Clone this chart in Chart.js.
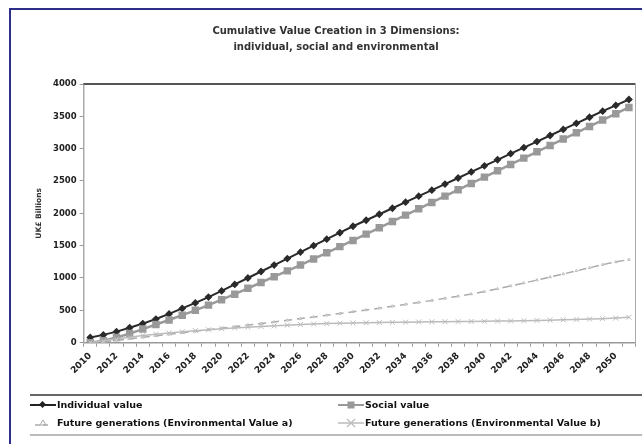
<!DOCTYPE html>
<html>
<head>
<meta charset="utf-8">
<script src="https://cdn.jsdelivr.net/npm/chart.js@4.4.1/dist/chart.umd.min.js"></script>
<style>
  html, body { margin: 0; padding: 0; background: #fff; }
  body { width: 642px; height: 444px; overflow: hidden; position: relative; font-family: "DejaVu Sans", sans-serif; }
  #frame { position: absolute; left: 9px; top: 8px; width: 700px; height: 500px; border: 2px solid #2e2f88; box-sizing: border-box; }
  #chartBox { position: absolute; left: 0; top: 0; width: 642px; height: 444px; }
  #legend { position: absolute; left: 30px; top: 394px; width: 612px; height: 38px; border-top: 2px solid #666; border-bottom: 2px solid #bbb; }
  .item { position: absolute; height: 14px; font-size: 9.5px; font-weight: bold; color: #111; white-space: nowrap; line-height: 14px; }
  .item svg { position: absolute; left: 0; top: 0; }
  .item span { position: absolute; left: 27px; top: 0; }
</style>
</head>
<body>
<div id="frame"></div>
<div id="chartBox"><canvas id="chart" width="642" height="444"></canvas></div>
<div id="legend">
  <div class="item" style="left:0; top:2px;">
    <svg width="26" height="14"><line x1="0" y1="7" x2="26" y2="7" stroke="#222" stroke-width="2"/><rect x="10" y="4" width="5" height="5" fill="#222" transform="rotate(45 12.5 6.5)"/></svg>
    <span>Individual value</span>
  </div>
  <div class="item" style="left:308px; top:2px;">
    <svg width="26" height="14"><line x1="0" y1="7" x2="26" y2="7" stroke="#999" stroke-width="2"/><rect x="9.5" y="3.5" width="7" height="7" fill="#999"/></svg>
    <span>Social value</span>
  </div>
  <div class="item" style="left:0; top:20px;">
    <svg width="26" height="14"><line x1="5" y1="9" x2="21" y2="9" stroke="#aaa" stroke-width="1.5" stroke-dasharray="5 3"/><path d="M13 4 L16 9 L10 9 Z" fill="none" stroke="#aaa" stroke-width="1"/></svg>
    <span>Future generations (Environmental Value a)</span>
  </div>
  <div class="item" style="left:308px; top:20px;">
    <svg width="26" height="14"><line x1="0" y1="7" x2="26" y2="7" stroke="#bbb" stroke-width="1.5"/><path d="M9 3 L17 11 M17 3 L9 11" stroke="#bbb" stroke-width="1.2"/></svg>
    <span>Future generations (Environmental Value b)</span>
  </div>
</div>
<script>
// Data
const years = ['2010', '2011', '2012', '2013', '2014', '2015', '2016', '2017', '2018', '2019',
  '2020', '2021', '2022', '2023', '2024', '2025', '2026', '2027', '2028', '2029',
  '2030', '2031', '2032', '2033', '2034', '2035', '2036', '2037', '2038', '2039',
  '2040', '2041', '2042', '2043', '2044', '2045', '2046', '2047', '2048', '2049',
  '2050', '2051'];

const individualValue = [80, 120, 170, 230, 295, 365, 445, 530, 615, 705,
  800, 900, 1000, 1100, 1200, 1300, 1400, 1500, 1600, 1700,
  1800, 1893, 1986, 2079, 2172, 2265, 2358, 2452, 2546, 2640,
  2734, 2828, 2922, 3016, 3110, 3204, 3298, 3392, 3486, 3580,
  3670, 3760];

const socialValue = [0, 30, 80, 140, 210, 280, 350, 425, 500, 580,
  665, 750, 840, 930, 1020, 1110, 1200, 1295, 1390, 1485,
  1580, 1678, 1776, 1874, 1972, 2070, 2168, 2266, 2364, 2462,
  2560, 2658, 2756, 2854, 2952, 3050, 3148, 3246, 3344, 3442,
  3540, 3638];

const envValueA = [0, 15, 35, 58, 82, 105, 128, 152, 176, 200,
  224, 248, 272, 296, 321, 346, 372, 398, 424, 450,
  477, 505, 533, 562, 592, 622, 653, 685, 718, 752,
  790, 833, 877, 922, 968, 1015, 1062, 1110, 1158, 1207,
  1248, 1285];

const envValueB = [0, 30, 60, 85, 110, 130, 150, 170, 185, 200,
  215, 228, 240, 250, 260, 270, 280, 288, 295, 300,
  305, 308, 311, 314, 317, 320, 322, 324, 326, 328,
  330, 333, 336, 340, 344, 348, 353, 358, 364, 371,
  380, 392];

const yTicks = [0, 500, 1000, 1500, 2000, 2500, 3000, 3500, 4000];

const tickFont = { family: 'DejaVu Sans', size: 8.5, weight: 'bold' };
const xTickFont = { family: 'DejaVu Sans', size: 9, weight: 'bold' };

// Border of the plot area: dark on top, light on the right
const plotBorder = {
  id: 'plotBorder',
  beforeDatasetsDraw(chart) {
    const { ctx, chartArea: a } = chart;
    ctx.save();
    ctx.strokeStyle = '#555';
    ctx.lineWidth = 2;
    ctx.beginPath();
    ctx.moveTo(a.left, a.top);
    ctx.lineTo(a.right, a.top);
    ctx.stroke();
    ctx.strokeStyle = '#aaa';
    ctx.lineWidth = 1;
    ctx.beginPath();
    ctx.moveTo(a.right, a.top);
    ctx.lineTo(a.right, a.bottom);
    ctx.stroke();
    ctx.restore();
  }
};

const ctx = document.getElementById('chart').getContext('2d');

new Chart(ctx, {
  type: 'line',
  data: {
    labels: years,
    datasets: [
      {
        label: 'Future generations (Environmental Value b)',
        data: envValueB,
        borderColor: '#bbb',
        borderWidth: 1.5,
        pointStyle: 'crossRot',
        pointRadius: 3.5,
        pointBorderColor: '#bbb',
        pointBorderWidth: 1,
        tension: 0
      },
      {
        label: 'Future generations (Environmental Value a)',
        data: envValueA,
        borderColor: '#aaa',
        borderWidth: 1.5,
        borderDash: [8, 5],
        pointStyle: 'triangle',
        pointRadius: 1.5,
        pointBorderColor: '#bbb',
        pointBackgroundColor: '#fff',
        pointBorderWidth: 1,
        tension: 0
      },
      {
        label: 'Social value',
        data: socialValue,
        borderColor: '#999',
        borderWidth: 2.5,
        pointStyle: 'rect',
        pointRadius: 3.5,
        pointBackgroundColor: '#999',
        pointBorderColor: '#999',
        tension: 0
      },
      {
        label: 'Individual value',
        data: individualValue,
        borderColor: '#2a2a2a',
        borderWidth: 2,
        pointStyle: 'rectRot',
        pointRadius: 2.5,
        pointBackgroundColor: '#2a2a2a',
        pointBorderColor: '#2a2a2a',
        tension: 0
      }
    ]
  },
  options: {
    responsive: false,
    animation: false,
    layout: {
      padding: { left: 35, right: 5, top: 23, bottom: 64 }
    },
    plugins: {
      legend: { display: false },
      tooltip: { enabled: false },
      title: {
        display: true,
        text: ['Cumulative Value Creation in 3 Dimensions:', 'individual, social and environmental'],
        color: '#333',
        font: { family: 'DejaVu Sans', size: 10, weight: 'bold', lineHeight: 1.6 },
        padding: { top: 0, bottom: 29 }
      }
    },
    scales: {
      x: {
        offset: true,
        grid: { drawOnChartArea: false, offset: true, tickLength: 4, color: '#999' },
        border: { color: '#999', width: 1.5 },
        ticks: {
          autoSkip: false,
          maxRotation: 45,
          minRotation: 45,
          padding: 4,
          color: '#222',
          font: xTickFont,
          callback: function (value, index) {
            return index % 2 === 0 ? this.getLabelForValue(value) : '';
          }
        }
      },
      y: {
        min: 0,
        max: 4000,
        afterBuildTicks: (axis) => {
          axis.ticks = yTicks.map(v => ({ value: v }));
        },
        grid: { drawOnChartArea: false, tickLength: 4, color: '#999' },
        border: { color: '#aaa', width: 1.5 },
        ticks: {
          color: '#222',
          font: tickFont,
          padding: 3,
          callback: (value) => String(value)
        },
        title: {
          display: true,
          text: 'UK£ Billions',
          color: '#333',
          font: { family: 'DejaVu Sans', size: 7.5, weight: 'bold' },
          padding: { top: 0, bottom: 6 }
        }
      }
    }
  },
  plugins: [plotBorder]
});
</script>
</body>
</html>
